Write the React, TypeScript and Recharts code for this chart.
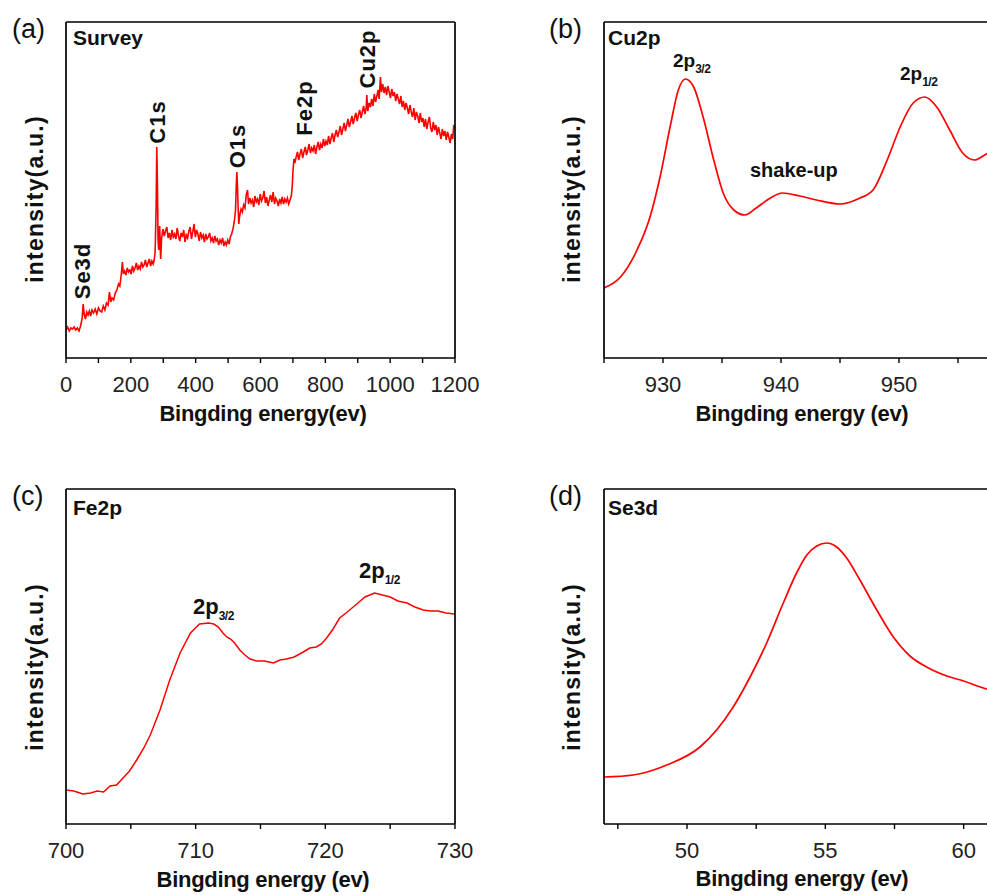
import React from 'react';
import { LineChart, Line, XAxis, YAxis } from 'recharts';

// binding energy (eV), intensity (a.u.) pairs
const surveyPoints = [
  [0, 28], [5, 31], [10, 27], [15, 30], [20, 29], [25, 31], [30, 28], [35, 30], [40, 27], [45, 32],
  [50, 40], [53, 54], [56, 44], [60, 39], [64, 46], [68, 43], [72, 47], [76, 42], [80, 48], [85, 45],
  [90, 49], [95, 44], [100, 50], [105, 47], [110, 46], [115, 52], [120, 48], [125, 55], [130, 53], [134, 66],
  [138, 56], [142, 60], [147, 58], [152, 65], [157, 68], [162, 74], [166, 72], [170, 82], [174, 96], [177, 84],
  [181, 87], [185, 83], [189, 90], [193, 86], [197, 88], [201, 84], [205, 92], [209, 87], [213, 90], [217, 95],
  [221, 88], [225, 92], [229, 89], [233, 96], [237, 91], [241, 93], [245, 98], [249, 91], [253, 95], [257, 99],
  [261, 92], [265, 97], [269, 94], [272, 98], [275, 106], [278, 150], [280, 211], [282, 175], [284, 118], [286, 108],
  [289, 132], [292, 99], [295, 120], [299, 129], [303, 122], [307, 127], [311, 131], [315, 120], [319, 125], [323, 118],
  [327, 128], [331, 121], [335, 124], [339, 119], [343, 130], [347, 122], [351, 117], [355, 125], [359, 121], [363, 128],
  [367, 116], [371, 123], [375, 120], [379, 127], [383, 131], [387, 119], [391, 126], [395, 134], [399, 121], [403, 128],
  [407, 124], [411, 117], [415, 126], [419, 120], [423, 123], [427, 116], [431, 124], [435, 119], [439, 121], [443, 125],
  [447, 117], [451, 120], [455, 115], [459, 122], [463, 117], [467, 119], [471, 113], [475, 118], [479, 115], [483, 120],
  [487, 112], [491, 116], [495, 113], [499, 118], [503, 114], [507, 121], [511, 124], [515, 129], [519, 136], [523, 148],
  [525, 170], [527, 186], [529, 172], [531, 150], [533, 134], [536, 143], [540, 149], [544, 146], [548, 153], [552, 150],
  [556, 163], [560, 168], [563, 154], [567, 160], [571, 155], [575, 158], [579, 151], [583, 162], [587, 156], [591, 159],
  [595, 153], [599, 164], [603, 157], [607, 160], [611, 167], [615, 155], [619, 161], [623, 152], [627, 158], [631, 163],
  [635, 156], [639, 166], [643, 154], [647, 160], [651, 157], [655, 152], [659, 159], [663, 155], [667, 161], [671, 154],
  [675, 159], [679, 156], [683, 160], [687, 154], [691, 158], [695, 162], [698, 172], [700, 186], [703, 199], [706, 195],
  [710, 201], [714, 206], [718, 198], [722, 204], [726, 209], [730, 200], [734, 206], [738, 211], [742, 203], [746, 208],
  [750, 214], [754, 205], [758, 210], [762, 207], [766, 213], [770, 204], [774, 211], [778, 216], [782, 208], [786, 214],
  [790, 210], [794, 219], [798, 212], [802, 217], [806, 213], [810, 222], [814, 214], [818, 220], [822, 225], [826, 216],
  [830, 223], [834, 228], [838, 221], [842, 226], [846, 232], [850, 223], [854, 229], [858, 235], [862, 227], [866, 233],
  [870, 239], [874, 231], [878, 236], [882, 242], [886, 234], [890, 240], [894, 245], [898, 237], [902, 243], [906, 248],
  [910, 240], [914, 246], [918, 252], [922, 244], [926, 250], [928, 263], [931, 247], [935, 255], [939, 251], [943, 259],
  [947, 252], [951, 264], [955, 256], [959, 262], [963, 268], [966, 259], [970, 281], [973, 266], [977, 274], [981, 265],
  [985, 271], [989, 263], [993, 272], [997, 266], [1001, 260], [1005, 269], [1009, 262], [1013, 266], [1017, 257], [1021, 264],
  [1025, 259], [1029, 254], [1033, 262], [1037, 251], [1041, 257], [1045, 248], [1049, 255], [1053, 250], [1057, 244], [1061, 253],
  [1065, 246], [1069, 241], [1073, 250], [1077, 238], [1081, 246], [1085, 242], [1089, 235], [1093, 245], [1097, 236], [1101, 240],
  [1105, 231], [1109, 239], [1113, 229], [1117, 236], [1121, 241], [1125, 230], [1129, 226], [1133, 236], [1137, 228], [1141, 233],
  [1145, 223], [1149, 231], [1153, 225], [1157, 219], [1161, 229], [1165, 222], [1169, 227], [1173, 218], [1177, 226], [1181, 221],
  [1185, 215], [1189, 224], [1193, 219], [1196, 233], [1200, 229],
];

const cuPoints = [
  [925, 70], [926.4, 81], [927.8, 108], [928.9, 141], [929.75, 181], [930.6, 231], [931.3, 268], [931.9, 279],
  [932.6, 271], [933.4, 241], [934.3, 198], [935.1, 165], [936, 148], [936.95, 143], [937.9, 150], [939.1, 160],
  [940.1, 165], [941.6, 162], [943, 158], [945, 154], [946.7, 160], [947.8, 168], [949, 198], [950.1, 231],
  [951.2, 255], [952.2, 261], [953.2, 251], [954.3, 228], [955.4, 205], [956.4, 198], [957.4, 204], [958.5, 210],
  [960, 214],
];

const fePoints = [
  [700, 34], [700.6, 33], [701.3, 30], [701.9, 31], [702.4, 33], [702.9, 32], [703.4, 38], [703.9, 39],
  [704.4, 46], [704.9, 53], [705.45, 64], [706, 76], [706.5, 89], [707.25, 114], [708, 144], [708.8, 171],
  [709.6, 191], [710.3, 200], [711, 201], [711.4, 200], [711.75, 197], [712.1, 191], [712.4, 187], [712.7, 185],
  [713, 181], [713.4, 174], [713.8, 169], [714.2, 165], [714.7, 163], [715.3, 163], [716, 161], [716.5, 164],
  [717, 165], [717.6, 167], [718.3, 172], [718.8, 176], [719.3, 177], [719.7, 180], [720.1, 186], [720.6, 195],
  [721.1, 206], [721.6, 211], [722.15, 217], [722.6, 222], [723.06, 227], [723.8, 231], [724.4, 229], [725, 227],
  [725.6, 223], [726.3, 221], [726.9, 217], [727.55, 214], [728.1, 213], [728.7, 213], [729.3, 211], [730, 210],
];

const sePoints = [
  [47, 47], [48.06, 49], [49.27, 59], [50.47, 77], [51.07, 94], [51.67, 117], [52.28, 147], [52.88, 181],
  [53.48, 221], [53.96, 251], [54.33, 269], [54.69, 278], [55.05, 281], [55.41, 277], [55.77, 266], [56.25, 244],
  [56.86, 214], [57.46, 187], [58.06, 168], [58.66, 157], [59.39, 148], [59.99, 143], [60.83, 135], [61.5, 131],
  [62, 128],
];

const surveyTicks = [0, 100, 200, 300, 400, 500, 600, 700, 800, 900, 1000, 1100, 1200];
const surveyLabels = [0, 200, 400, 600, 800, 1000, 1200];
const cuTicks = [925, 930, 935, 940, 945, 950, 955, 960];
const cuLabels = [930, 940, 950];
const feTicks = [700, 705, 710, 715, 720, 725, 730];
const feLabels = [700, 710, 720, 730];
const seTicks = [47.5, 50, 52.5, 55, 57.5, 60, 62.5];
const seLabels = [50, 55, 60];

const FONT = 'Arial, "Liberation Sans", Helvetica, sans-serif';
const RED = '#ff0000';
const AXIS = { stroke: '#000', strokeWidth: 1.7 };

const toRows = (pts: number[][]) => pts.map(([e, v]) => ({ e, v }));

const makeTick = (labels: number[], axisY: number) => (props: any) => {
  const { x, payload } = props;
  if (!labels.includes(payload.value)) return <g />;
  return (
    <text x={x} y={axisY + 34} textAnchor="middle" fontSize={22} fill="#222" fontFamily={FONT}>
      {payload.value}
    </text>
  );
};

type PanelProps = {
  points: number[][];
  domain: [number, number];
  yMax: number;
  ticks: number[];
  labels: number[];
  left: number;
  top: number;
  width: number;
  height: number;
  plot: { top: number; right: number; bottom: number; left: number };
  strokeWidth: number;
  curve: 'linear' | 'monotone';
};

// plot = distances from the chart edges to the frame
const Panel = ({ points, domain, yMax, ticks, labels, left, top, width, height, plot, strokeWidth, curve }: PanelProps) => (
  <div style={{ position: 'absolute', left, top }}>
    <LineChart
      width={width}
      height={height}
      data={toRows(points)}
      margin={{ top: plot.top - 1, right: plot.right - 1, bottom: plot.bottom - 30, left: plot.left - 1 }}
    >
      <XAxis
        dataKey="e"
        type="number"
        domain={domain}
        ticks={ticks}
        interval={0}
        allowDataOverflow
        height={30}
        tickSize={5}
        tick={makeTick(labels, height - plot.bottom)}
        axisLine={AXIS}
        tickLine={{ stroke: '#000', strokeWidth: 1.4 }}
      />
      <XAxis xAxisId="top" orientation="top" dataKey="e" type="number" domain={domain} allowDataOverflow height={1} tick={false} tickLine={false} axisLine={AXIS} />
      <YAxis type="number" domain={[0, yMax]} allowDataOverflow width={1} tick={false} tickLine={false} axisLine={AXIS} />
      <YAxis yAxisId="right" orientation="right" type="number" domain={[0, yMax]} width={1} tick={false} tickLine={false} axisLine={AXIS} />
      <Line type={curve} dataKey="v" stroke={RED} strokeWidth={strokeWidth} dot={false} isAnimationActive={false} />
    </LineChart>
  </div>
);

const Sub = ({ x, y, main, sub, size }: { x: number; y: number; main: string; sub: string; size: number }) => (
  <text x={x} y={y} fontSize={size} fontWeight="bold" fill="#111" fontFamily={FONT}>
    {main}
    <tspan fontSize={12} dy={6} letterSpacing={-0.5}>{sub}</tspan>
  </text>
);

const Rot = ({ x, y, children, size = 22, spacing = 1 }: any) => (
  <text
    x={x}
    y={y}
    transform={`rotate(-90, ${x}, ${y})`}
    textAnchor="middle"
    dominantBaseline="central"
    fontSize={size}
    fontWeight="bold"
    letterSpacing={spacing}
    fill="#111"
    fontFamily={FONT}
  >
    {children}
  </text>
);

const XPSFigure = () => {
  const txt = { fontFamily: FONT, fill: '#111' };
  return (
    <div style={{ position: 'absolute', left: 0, top: 0, width: 987, height: 895, overflow: 'hidden', background: '#fff' }}>
      {/* (a) survey */}
      <Panel points={surveyPoints} domain={[0, 1200]} yMax={336} ticks={surveyTicks} labels={surveyLabels}
        left={0} top={0} width={500} height={430} plot={{ top: 22, right: 45, bottom: 72, left: 66 }} strokeWidth={1.6} curve="linear" />
      {/* (b) Cu2p */}
      <Panel points={cuPoints} domain={[925, 960]} yMax={336} ticks={cuTicks} labels={cuLabels}
        left={490} top={0} width={537} height={430} plot={{ top: 22, right: 10, bottom: 72, left: 114 }} strokeWidth={1.7} curve="monotone" />
      {/* (c) Fe2p */}
      <Panel points={fePoints} domain={[700, 730]} yMax={335} ticks={feTicks} labels={feLabels}
        left={0} top={470} width={500} height={425} plot={{ top: 19, right: 45, bottom: 71, left: 66 }} strokeWidth={1.5} curve="linear" />
      {/* (d) Se3d */}
      <Panel points={sePoints} domain={[47, 62]} yMax={335} ticks={seTicks} labels={seLabels}
        left={490} top={470} width={539} height={425} plot={{ top: 19, right: 10, bottom: 71, left: 114 }} strokeWidth={1.7} curve="monotone" />

      <svg width={987} height={895} style={{ position: 'absolute', left: 0, top: 0, pointerEvents: 'none' }}>
        {/* panel letters */}
        <text x={12} y={38} fontSize={27} {...txt}>(a)</text>
        <text x={549} y={38} fontSize={27} {...txt}>(b)</text>
        <text x={12} y={505} fontSize={27} {...txt}>(c)</text>
        <text x={549} y={505} fontSize={27} {...txt}>(d)</text>

        {/* titles */}
        <text x={73} y={45} fontSize={21} fontWeight="bold" {...txt}>Survey</text>
        <text x={608} y={45} fontSize={21} fontWeight="bold" {...txt}>Cu2p</text>
        <text x={73} y={515} fontSize={21} fontWeight="bold" {...txt}>Fe2p</text>
        <text x={608} y={515} fontSize={21} fontWeight="bold" {...txt}>Se3d</text>

        {/* axis titles */}
        <text x={263} y={421} textAnchor="middle" fontSize={22} fontWeight="bold" letterSpacing={-0.3} {...txt}>Bingding energy(ev)</text>
        <text x={802} y={421} textAnchor="middle" fontSize={22} fontWeight="bold" letterSpacing={-0.3} {...txt}>Bingding energy (ev)</text>
        <text x={263} y={887} textAnchor="middle" fontSize={22} fontWeight="bold" letterSpacing={-0.3} {...txt}>Bingding energy (ev)</text>
        <text x={802} y={886} textAnchor="middle" fontSize={22} fontWeight="bold" letterSpacing={-0.3} {...txt}>Bingding energy (ev)</text>
        <Rot x={35} y={199} size={23} spacing={1.2}>intensity(a.u.)</Rot>
        <Rot x={572} y={199} size={23} spacing={1.2}>intensity(a.u.)</Rot>
        <Rot x={35} y={667} size={23} spacing={1.2}>intensity(a.u.)</Rot>
        <Rot x={572} y={667} size={23} spacing={1.2}>intensity(a.u.)</Rot>

        {/* survey peak labels */}
        <Rot x={82} y={271}>Se3d</Rot>
        <Rot x={157} y={122}>C1s</Rot>
        <Rot x={237} y={146}>O1s</Rot>
        <Rot x={304} y={108}>Fe2p</Rot>
        <Rot x={367} y={59}>Cu2p</Rot>

        {/* Cu2p annotations */}
        <Sub x={673} y={67} main="2p" sub="3/2" size={19} />
        <Sub x={900} y={80} main="2p" sub="1/2" size={19} />
        <text x={750} y={177} fontSize={20} fontWeight="bold" {...txt}>shake-up</text>

        {/* Fe2p annotations */}
        <Sub x={193} y={614} main="2p" sub="3/2" size={22} />
        <Sub x={359} y={578} main="2p" sub="1/2" size={22} />
      </svg>
    </div>
  );
};

export default XPSFigure;
